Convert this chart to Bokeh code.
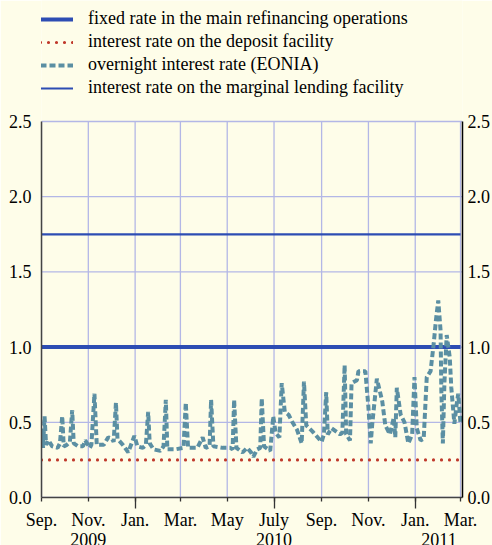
import pandas as pd
from bokeh.plotting import figure
from bokeh.models import (Range1d, FixedTicker, NumeralTickFormatter, LinearAxis,
                          DatetimeAxis, Legend, LegendItem, ColumnDataSource)
from bokeh.embed import file_html
from bokeh.resources import INLINE

# ---------------- data ----------------
eonia_dates = [
    "2009-09-01", "2009-09-03", "2009-09-05", "2009-09-07", "2009-09-10", "2009-09-15",
    "2009-09-22", "2009-09-25", "2009-09-28", "2009-09-30", "2009-10-04", "2009-10-08",
    "2009-10-11", "2009-10-13", "2009-10-19", "2009-10-25", "2009-10-28", "2009-11-03",
    "2009-11-05", "2009-11-09", "2009-11-12", "2009-11-21", "2009-11-27", "2009-12-02",
    "2009-12-04", "2009-12-07", "2009-12-09", "2009-12-16", "2009-12-23", "2009-12-31",
    "2010-01-04", "2010-01-11", "2010-01-15", "2010-01-18", "2010-01-20", "2010-01-25",
    "2010-02-03", "2010-02-07", "2010-02-10", "2010-02-12", "2010-02-22", "2010-03-05",
    "2010-03-08", "2010-03-11", "2010-03-23", "2010-03-30", "2010-04-03", "2010-04-08",
    "2010-04-10", "2010-04-13", "2010-04-25", "2010-05-05", "2010-05-08", "2010-05-10",
    "2010-05-13", "2010-05-21", "2010-05-27", "2010-06-01", "2010-06-04", "2010-06-09",
    "2010-06-13", "2010-06-15", "2010-06-18", "2010-06-26", "2010-06-30", "2010-07-03",
    "2010-07-08", "2010-07-11", "2010-07-15", "2010-07-20", "2010-07-25", "2010-07-31",
    "2010-08-06", "2010-08-09", "2010-08-12", "2010-08-20", "2010-09-01", "2010-09-04",
    "2010-09-07", "2010-09-09", "2010-09-14", "2010-09-25", "2010-09-28", "2010-10-01",
    "2010-10-03", "2010-10-08", "2010-10-10", "2010-10-17", "2010-10-19", "2010-10-28",
    "2010-11-01", "2010-11-04", "2010-11-06", "2010-11-12", "2010-11-19", "2010-11-23",
    "2010-11-29", "2010-12-04", "2010-12-06", "2010-12-08", "2010-12-13", "2010-12-18",
    "2010-12-23", "2010-12-28", "2010-12-31", "2011-01-03", "2011-01-08", "2011-01-12",
    "2011-01-16", "2011-01-21", "2011-01-25", "2011-01-28", "2011-01-31", "2011-02-03",
    "2011-02-04", "2011-02-06", "2011-02-08", "2011-02-11", "2011-02-15", "2011-02-17",
    "2011-02-21", "2011-02-24", "2011-02-26", "2011-03-01",
]
eonia_values = [
    0.42, 0.33, 0.54, 0.35, 0.38, 0.34,
    0.33, 0.36, 0.54, 0.34, 0.35, 0.37,
    0.58, 0.36, 0.34, 0.34, 0.38, 0.33,
    0.35, 0.69, 0.35, 0.35, 0.40, 0.39,
    0.37, 0.63, 0.39, 0.35, 0.30, 0.41,
    0.34, 0.33, 0.35, 0.57, 0.36, 0.32,
    0.31, 0.34, 0.65, 0.32, 0.32, 0.33,
    0.63, 0.33, 0.33, 0.40, 0.33, 0.34,
    0.65, 0.34, 0.33, 0.33, 0.32, 0.65,
    0.33, 0.30, 0.33, 0.30, 0.27, 0.32,
    0.33, 0.66, 0.34, 0.31, 0.54, 0.43,
    0.40, 0.76, 0.57, 0.55, 0.50, 0.45,
    0.36, 0.77, 0.48, 0.44, 0.37, 0.42,
    0.70, 0.42, 0.46, 0.42, 0.43, 0.88,
    0.42, 0.38, 0.76, 0.78, 0.84, 0.84,
    0.60, 0.36, 0.49, 0.79, 0.64, 0.48,
    0.42, 0.53, 0.40, 0.73, 0.55, 0.50,
    0.36, 0.42, 0.80, 0.46, 0.38, 0.39,
    0.80, 0.84, 1.02, 1.18, 1.31, 1.11,
    0.71, 0.36, 0.76, 1.08, 0.93, 0.73,
    0.49, 0.62, 0.69, 0.49,
]

rate_dates = ["2009-09-01", "2011-03-01"]
mro_rate = [1.00, 1.00]
deposit_rate = [0.25, 0.25]
marginal_rate = [1.75, 1.75]

series_labels = [
    "fixed rate in the main refinancing operations",
    "interest rate on the deposit facility",
    "overnight interest rate (EONIA)",
    "interest rate on the marginal lending facility",
]

month_ticks = ["2009-09-01", "2009-11-01", "2010-01-01", "2010-03-01", "2010-05-01",
               "2010-07-01", "2010-09-01", "2010-11-01", "2011-01-01", "2011-03-01"]
month_labels = ["Sep.", "Nov.", "Jan.", "Mar.", "May", "July", "Sep.", "Nov.", "Jan.", "Mar."]
long_ticks = ["2010-01-01", "2010-07-01", "2011-01-01"]
year_ticks = ["2009-11-01", "2010-07-01", "2011-02-01"]
year_labels = ["2009", "2010", "2011"]
y_ticks = [0.0, 0.5, 1.0, 1.5, 2.0, 2.5]

# ---------------- style ----------------
BG = "#FEFDE9"
GRID = "#B3B7E6"
BLUE = "#2D4DB3"
RED = "#C0392B"
TEAL = "#5B8FA3"
FONT = "Liberation Serif"
FS = "18px"

PLOT_H = 376      # height of the 0..2.5 value area in px
TOP_PAD = 121     # legend area above it (inside the frame)


def ms(d):
    return float(pd.Timestamp(d).value // 10**6)


x_start = ms("2009-09-01")
x_end = ms("2011-03-03") + 14 * 3600 * 1000
y_lo, y_hi = y_ticks[0], y_ticks[-1]
y_top = y_hi * (PLOT_H + TOP_PAD) / PLOT_H

p = figure(frame_width=421, frame_height=PLOT_H + TOP_PAD, x_axis_type="datetime",
           x_range=Range1d(x_start, x_end), y_range=Range1d(y_lo, y_top),
           output_backend="svg", toolbar_location=None,
           min_border_left=41, min_border_right=30, min_border_top=0, min_border_bottom=10,
           background_fill_color=BG, border_fill_color=BG, outline_line_color=None)
p.grid.visible = False

# grid lines limited to the value area
mt = pd.to_datetime(month_ticks)
p.segment(x0=mt, y0=[y_lo] * len(mt), x1=mt, y1=[y_hi] * len(mt),
          line_color=GRID, line_width=1.3)
p.segment(x0=[pd.Timestamp(month_ticks[0])] * len(y_ticks), y0=y_ticks,
          x1=[pd.Timestamp(x_end, unit="ms")] * len(y_ticks), y1=y_ticks,
          line_color=GRID, line_width=1.3)

rd = pd.to_datetime(rate_dates)
r_mro = p.line(rd, mro_rate, line_color=BLUE, line_width=4)
r_marg = p.line(rd, marginal_rate, line_color=BLUE, line_width=2.2)
r_dep = p.line(rd, deposit_rate, line_color=RED, line_width=3.2, line_dash="0 8",
               line_cap="round")
src = ColumnDataSource(dict(x=pd.to_datetime(eonia_dates), y=eonia_values))
r_eon = p.line("x", "y", source=src, line_color=TEAL, line_width=4, line_dash="6 3")

# bottom month axis
xa = p.xaxis[0]
xa.ticker = FixedTicker(ticks=[ms(d) for d in month_ticks],
                        minor_ticks=[ms(d) for d in long_ticks])
xa.major_label_overrides = {ms(d): lab for d, lab in zip(month_ticks, month_labels)}
xa.major_tick_in = 0
xa.major_tick_out = 4
xa.minor_tick_in = 0
xa.minor_tick_out = 11
xa.major_tick_line_color = "#333333"
xa.minor_tick_line_color = "#333333"
xa.major_tick_line_width = 1.3
xa.minor_tick_line_width = 1.3
xa.axis_line_color = "#444444"
xa.axis_line_width = 1.5
xa.major_label_standoff = 1
xa.major_label_text_font = FONT
xa.major_label_text_font_size = FS
xa.major_label_text_color = "black"

# year axis
ya_year = DatetimeAxis(ticker=FixedTicker(ticks=[ms(d) for d in year_ticks]),
                       major_label_overrides={ms(d): lab for d, lab in zip(year_ticks, year_labels)},
                       axis_line_color=None, major_tick_line_color=None,
                       minor_tick_line_color=None, major_tick_out=0, major_tick_in=0,
                       major_label_standoff=0,
                       major_label_text_font=FONT, major_label_text_font_size=FS,
                       major_label_text_color="black")
p.add_layout(ya_year, "below")

# left axis
la = p.yaxis[0]
la.ticker = FixedTicker(ticks=y_ticks)
la.formatter = NumeralTickFormatter(format="0.0")
la.bounds = (y_lo, y_hi)
la.major_tick_line_color = None
la.minor_tick_line_color = None
la.major_tick_out = 0
la.axis_line_color = "#444444"
la.axis_line_width = 1.5
la.major_label_standoff = 10
la.major_label_text_font = FONT
la.major_label_text_font_size = FS
la.major_label_text_color = "black"

# right axis
ra = LinearAxis(ticker=FixedTicker(ticks=y_ticks),
                formatter=NumeralTickFormatter(format="0.0"),
                bounds=(y_lo, y_hi),
                major_tick_line_color=None, minor_tick_line_color=None,
                major_tick_out=0,
                axis_line_color="black", axis_line_width=1.5,
                major_label_standoff=5, major_label_text_font=FONT,
                major_label_text_font_size=FS, major_label_text_color="black")
p.add_layout(ra, "right")

legend = Legend(items=[LegendItem(label=series_labels[0], renderers=[r_mro]),
                       LegendItem(label=series_labels[1], renderers=[r_dep]),
                       LegendItem(label=series_labels[2], renderers=[r_eon]),
                       LegendItem(label=series_labels[3], renderers=[r_marg])],
                location=(-1, 399), orientation="vertical",
                glyph_width=33, glyph_height=20, label_height=20, label_standoff=15,
                spacing=2, padding=0, margin=0,
                border_line_color=None, background_fill_alpha=0,
                label_text_font=FONT, label_text_font_size=FS,
                label_text_color="black")
p.add_layout(legend, "center")

open("out.html", "w").write(file_html(p, INLINE))
